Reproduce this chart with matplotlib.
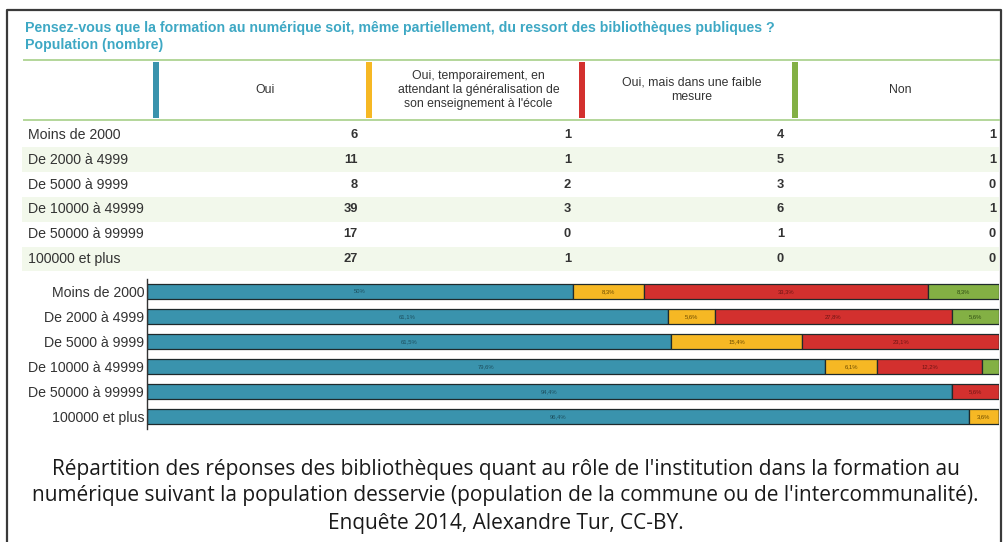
import matplotlib
matplotlib.use("Agg")
import matplotlib.pyplot as plt
from matplotlib.patches import Rectangle
from matplotlib.lines import Line2D
import numpy as np

# ---------------- data ----------------
categories = ["Moins de 2000", "De 2000 à 4999", "De 5000 à 9999",
              "De 10000 à 49999", "De 50000 à 99999", "100000 et plus"]
answers = ["Oui",
           "Oui, temporairement, en\nattendant la généralisation de\nson enseignement à l'école",
           "Oui, mais dans une faible\nmesure",
           "Non"]
oui = [6, 11, 8, 39, 17, 27]
oui_temp = [1, 1, 2, 3, 0, 1]
oui_faible = [4, 5, 3, 6, 1, 0]
non = [1, 1, 0, 1, 0, 0]
title_lines = ["Pensez-vous que la formation au numérique soit, même partiellement, du ressort des bibliothèques publiques ?",
               "Population (nombre)"]
caption = ["Répartition des réponses des bibliothèques quant au rôle de l'institution dans la formation au",
           "numérique suivant la population desservie (population de la commune ou de l'intercommunalité).",
           "Enquête 2014, Alexandre Tur, CC-BY."]

colors = ["#3a93ad", "#f6b824", "#d3302e", "#83b044"]
text_colors = ["#1d4f5e", "#6b4a00", "#6e1514", "#2f4d12"]

W, H = 1007, 542
fig = plt.figure(figsize=(W / 100, H / 100), dpi=100)
fig.patch.set_facecolor("white")

def fpos(x0, y0, x1, y1):
    return [x0 / W, 1 - y1 / H, (x1 - x0) / W, (y1 - y0) / H]

# ---------------- pixel overlay axes for table & decorations ----------------
ov = fig.add_axes([0, 0, 1, 1])
ov.set_xlim(0, W)
ov.set_ylim(H, 0)
ov.axis("off")

# frame
ov.add_line(Line2D([7, 7, 1001, 1001], [H + 5, 10, 10, H + 5], color="#3a3a3a", lw=1.6))

# title
title_color = "#3ea8c4"
ov.text(25, 28, title_lines[0], color=title_color, fontsize=10.2, fontweight="bold",
        family="Liberation Sans", va="center", ha="left")
ov.text(25, 45, title_lines[1], color=title_color, fontsize=10.2, fontweight="bold",
        family="Liberation Sans", va="center", ha="left")

# header lines
green_line = "#b3d69a"
ov.add_line(Line2D([24, 999], [60, 60], color=green_line, lw=1.4))
ov.add_line(Line2D([24, 999], [120, 120], color=green_line, lw=1.4))

col_bars = [156, 369, 582, 795]
col_right = 1000
for i, (xb, ans) in enumerate(zip(col_bars, answers)):
    ov.add_patch(Rectangle((xb - 3, 62), 6, 56, color=colors[i], lw=0))
    xe = col_bars[i + 1] if i + 1 < len(col_bars) else col_right
    ov.text((xb + xe) / 2 + 3, 90, ans, ha="center", va="center", fontsize=8.8,
            family="Liberation Sans", color="#333333", linespacing=1.25)

# rows
row_y0, row_h = 135, 24.8
value_cols = [oui, oui_temp, oui_faible, non]
value_x = [358, 571, 784, 996]
for r, cat in enumerate(categories):
    yc = row_y0 + r * row_h
    if r % 2 == 1:
        ov.add_patch(Rectangle((22, yc - row_h / 2), 977, row_h, color="#f2f8eb", lw=0, zorder=0))
    ov.text(28, yc, cat, ha="left", va="center", fontsize=10.2,
            family="Liberation Sans", color="#333333")
    for c, vals in enumerate(value_cols):
        ov.text(value_x[c], yc, str(vals[r]), ha="right", va="center", fontsize=9.3,
                family="Liberation Sans", fontweight="bold", color="#333333")

# caption
cap_y = [469, 496, 523]
for line, y in zip(caption, cap_y):
    ov.text(W / 2 + 2, y, line, ha="center", va="center", fontsize=15.0,
            family="Open Sans", color="#1a1a1a")

# ---------------- stacked bar chart ----------------
ax = fig.add_axes(fpos(147, 279, 999, 429))
counts = np.array([oui, oui_temp, oui_faible, non], dtype=float)
totals = counts.sum(axis=0)
pct = counts / totals * 100
y = np.arange(len(categories))
left = np.zeros(len(categories))
for k in range(4):
    ax.barh(y, pct[k], left=left, height=0.6, color=colors[k],
            edgecolor="#1f2a2c", linewidth=0.9)
    for i in range(len(categories)):
        v = pct[k][i]
        if v >= 3:
            s = f"{v:.1f}".rstrip("0").rstrip(".").replace(".", ",") + "%"
            ax.text(left[i] + v / 2, y[i], s, ha="center", va="center",
                    fontsize=4.2, color=text_colors[k], family="Liberation Sans")
    left += pct[k]

ax.set_xlim(0, 100)
ax.set_ylim(len(categories) - 0.5, -0.5)
ax.set_yticks(y)
ax.set_yticklabels(categories, fontsize=10.2, family="Liberation Sans", color="#333333")
ax.tick_params(axis="y", length=0, pad=2)
ax.set_xticks([])
for s in ["top", "right", "bottom"]:
    ax.spines[s].set_visible(False)
ax.spines["left"].set_color("#333333")
ax.spines["left"].set_linewidth(1.0)
ax.set_facecolor("none")

fig.savefig("out.png", dpi=100, facecolor="white")
